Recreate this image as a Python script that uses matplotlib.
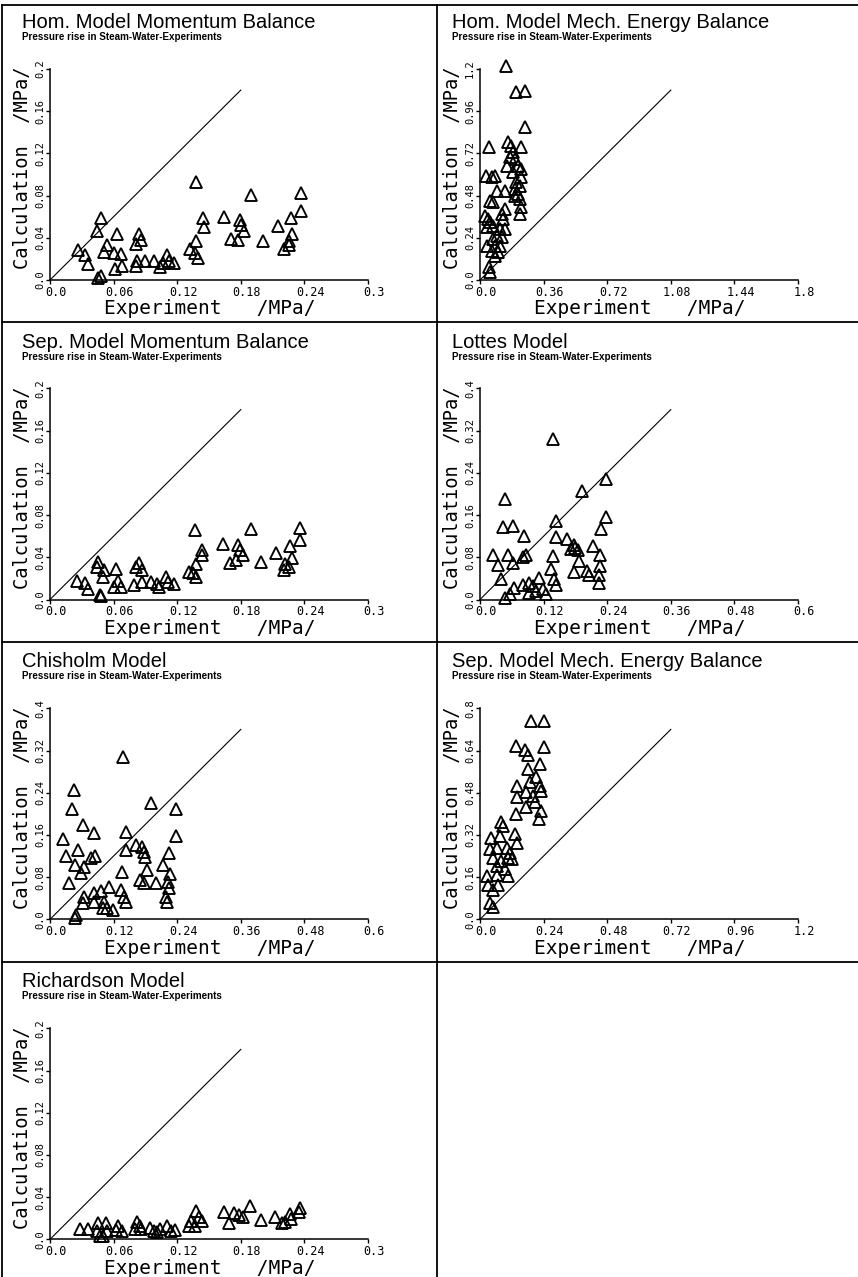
import matplotlib
matplotlib.use("Agg")
import matplotlib.pyplot as plt
from matplotlib import font_manager
from matplotlib.lines import Line2D
from matplotlib.transforms import ScaledTranslation


# --- DATA ---
titles = [
    "Hom. Model Momentum Balance",
    "Hom. Model Mech. Energy Balance",
    "Sep. Model Momentum Balance",
    "Lottes Model",
    "Chisholm Model",
    "Sep. Model Mech. Energy Balance",
    "Richardson Model",
]
subtitle = "Pressure rise in Steam-Water-Experiments"
x_label = "Experiment   /MPa/"
y_label = "Calculation  /MPa/"

ticks_02 = ["0.0", "0.04", "0.08", "0.12", "0.16", "0.2"]
ticks_03 = ["0.0", "0.06", "0.12", "0.18", "0.24", "0.3"]
ticks_04 = ["0.0", "0.08", "0.16", "0.24", "0.32", "0.4"]
ticks_06 = ["0.0", "0.12", "0.24", "0.36", "0.48", "0.6"]
ticks_08 = ["0.0", "0.16", "0.32", "0.48", "0.64", "0.8"]
ticks_12 = ["0.0", "0.24", "0.48", "0.72", "0.96", "1.2"]
ticks_18 = ["0.0", "0.36", "0.72", "1.08", "1.44", "1.8"]

hom_mom_exp = [0.138, 0.190, 0.237, 0.237, 0.164, 0.144, 0.145, 0.179, 0.180, 0.183,
               0.171, 0.177, 0.201, 0.215, 0.227, 0.228, 0.225, 0.225, 0.221, 0.138,
               0.132, 0.137, 0.140, 0.048, 0.044, 0.063, 0.084, 0.086, 0.081, 0.054,
               0.051, 0.026, 0.033, 0.036, 0.060, 0.067, 0.061, 0.068, 0.048, 0.045,
               0.081, 0.082, 0.090, 0.098, 0.104, 0.110, 0.112, 0.117, 0.107]
hom_mom_calc = [0.093, 0.081, 0.082, 0.065, 0.060, 0.059, 0.050, 0.057, 0.052, 0.046,
                0.039, 0.038, 0.037, 0.051, 0.059, 0.044, 0.037, 0.033, 0.029, 0.037,
                0.029, 0.026, 0.021, 0.059, 0.046, 0.044, 0.044, 0.038, 0.034, 0.033,
                0.027, 0.028, 0.024, 0.015, 0.026, 0.025, 0.010, 0.013, 0.004, 0.002,
                0.013, 0.018, 0.018, 0.018, 0.012, 0.024, 0.018, 0.016, 0.016]

hom_mech_exp = [0.146, 0.203, 0.253, 0.253, 0.053, 0.159, 0.178, 0.234, 0.188, 0.169,
                0.197, 0.150, 0.216, 0.234, 0.188, 0.034, 0.084, 0.066, 0.234, 0.206,
                0.225, 0.141, 0.094, 0.197, 0.216, 0.197, 0.056, 0.075, 0.225, 0.234,
                0.225, 0.141, 0.122, 0.131, 0.028, 0.047, 0.056, 0.038, 0.075, 0.113,
                0.141, 0.094, 0.122, 0.075, 0.038, 0.084, 0.113, 0.066, 0.103, 0.084,
                0.053, 0.056]
hom_mech_calc = [1.219, 1.067, 1.077, 0.868, 0.755, 0.783, 0.764, 0.755, 0.726, 0.698,
                 0.688, 0.650, 0.650, 0.631, 0.612, 0.593, 0.593, 0.584, 0.584, 0.555,
                 0.536, 0.508, 0.508, 0.518, 0.489, 0.480, 0.451, 0.442, 0.461, 0.413,
                 0.375, 0.404, 0.375, 0.347, 0.366, 0.347, 0.328, 0.300, 0.309, 0.290,
                 0.290, 0.252, 0.243, 0.233, 0.195, 0.195, 0.195, 0.167, 0.157, 0.138,
                 0.072, 0.044]

sep_mom_exp = [0.137, 0.190, 0.236, 0.236, 0.163, 0.143, 0.143, 0.138, 0.177, 0.179,
               0.182, 0.170, 0.175, 0.199, 0.213, 0.226, 0.228, 0.222, 0.221, 0.225,
               0.131, 0.138, 0.135, 0.045, 0.044, 0.051, 0.062, 0.064, 0.067, 0.060,
               0.050, 0.025, 0.033, 0.036, 0.047, 0.048, 0.081, 0.084, 0.087, 0.079,
               0.087, 0.095, 0.103, 0.109, 0.111, 0.117, 0.101]
sep_mom_calc = [0.066, 0.067, 0.068, 0.056, 0.053, 0.047, 0.042, 0.034, 0.052, 0.047,
                0.042, 0.035, 0.037, 0.036, 0.044, 0.051, 0.039, 0.034, 0.028, 0.031,
                0.026, 0.021, 0.025, 0.036, 0.031, 0.028, 0.029, 0.018, 0.012, 0.012,
                0.021, 0.018, 0.016, 0.010, 0.004, 0.003, 0.031, 0.035, 0.028, 0.014,
                0.017, 0.017, 0.012, 0.021, 0.017, 0.015, 0.015]

lottes_exp = [0.137, 0.238, 0.192, 0.047, 0.238, 0.044, 0.062, 0.229, 0.083, 0.144,
              0.144, 0.164, 0.177, 0.180, 0.171, 0.184, 0.213, 0.227, 0.227, 0.224,
              0.224, 0.187, 0.177, 0.202, 0.205, 0.025, 0.034, 0.053, 0.062, 0.081,
              0.087, 0.039, 0.137, 0.134, 0.140, 0.143, 0.112, 0.093, 0.081, 0.065,
              0.100, 0.106, 0.118, 0.056, 0.047, 0.093, 0.124]
lottes_calc = [0.305, 0.228, 0.206, 0.191, 0.157, 0.138, 0.140, 0.133, 0.120, 0.149,
               0.119, 0.114, 0.103, 0.098, 0.096, 0.094, 0.101, 0.085, 0.063, 0.047,
               0.032, 0.073, 0.052, 0.054, 0.047, 0.084, 0.066, 0.085, 0.070, 0.080,
               0.085, 0.038, 0.082, 0.057, 0.038, 0.028, 0.041, 0.032, 0.028, 0.022,
               0.025, 0.016, 0.019, 0.010, 0.003, 0.013, 0.010]

chisholm_exp = [0.138, 0.045, 0.042, 0.191, 0.238, 0.063, 0.083, 0.025, 0.144, 0.238,
                0.163, 0.144, 0.052, 0.031, 0.085, 0.078, 0.048, 0.064, 0.058, 0.036,
                0.174, 0.177, 0.180, 0.225, 0.214, 0.226, 0.183, 0.170, 0.177, 0.200,
                0.222, 0.224, 0.219, 0.220, 0.136, 0.134, 0.140, 0.143, 0.112, 0.096,
                0.083, 0.065, 0.062, 0.083, 0.102, 0.108, 0.100, 0.118, 0.049, 0.047]
chisholm_calc = [0.307, 0.245, 0.209, 0.220, 0.209, 0.179, 0.163, 0.152, 0.166, 0.157,
                 0.141, 0.131, 0.131, 0.120, 0.120, 0.116, 0.103, 0.100, 0.088, 0.068,
                 0.138, 0.128, 0.119, 0.125, 0.103, 0.086, 0.093, 0.075, 0.068, 0.068,
                 0.071, 0.060, 0.043, 0.033, 0.090, 0.056, 0.043, 0.033, 0.062, 0.053,
                 0.050, 0.043, 0.031, 0.033, 0.033, 0.021, 0.021, 0.018, 0.008, 0.003]

sep_mech_exp = [0.194, 0.240, 0.135, 0.169, 0.181, 0.240, 0.225, 0.181, 0.140, 0.188,
                0.213, 0.225, 0.231, 0.175, 0.140, 0.200, 0.206, 0.175, 0.231, 0.223,
                0.135, 0.081, 0.088, 0.040, 0.075, 0.131, 0.140, 0.038, 0.063, 0.100,
                0.113, 0.050, 0.081, 0.106, 0.119, 0.063, 0.094, 0.025, 0.063, 0.106,
                0.031, 0.069, 0.050, 0.038, 0.050]
sep_mech_calc = [0.752, 0.752, 0.657, 0.641, 0.622, 0.654, 0.590, 0.571, 0.507, 0.520,
                 0.539, 0.507, 0.488, 0.482, 0.463, 0.469, 0.443, 0.424, 0.411, 0.380,
                 0.399, 0.369, 0.354, 0.310, 0.316, 0.322, 0.290, 0.265, 0.271, 0.271,
                 0.252, 0.233, 0.220, 0.233, 0.227, 0.201, 0.189, 0.163, 0.169, 0.163,
                 0.131, 0.131, 0.112, 0.061, 0.048]

richardson_exp = [0.189, 0.236, 0.235, 0.164, 0.174, 0.178, 0.182, 0.169, 0.199, 0.212,
                  0.226, 0.227, 0.222, 0.219, 0.138, 0.141, 0.143, 0.133, 0.131, 0.137,
                  0.028, 0.036, 0.045, 0.044, 0.053, 0.054, 0.064, 0.062, 0.068, 0.047,
                  0.050, 0.082, 0.085, 0.080, 0.086, 0.094, 0.098, 0.104, 0.110, 0.114,
                  0.118, 0.101]
richardson_calc = [0.032, 0.030, 0.026, 0.026, 0.025, 0.023, 0.021, 0.015, 0.018, 0.021,
                   0.024, 0.019, 0.016, 0.015, 0.027, 0.021, 0.017, 0.017, 0.013, 0.013,
                   0.010, 0.010, 0.015, 0.008, 0.015, 0.008, 0.013, 0.009, 0.008, 0.003,
                   0.003, 0.016, 0.013, 0.010, 0.010, 0.011, 0.008, 0.010, 0.013, 0.008,
                   0.009, 0.007]

panels = [
    (titles[0], hom_mom_exp, hom_mom_calc, ticks_03, ticks_02),
    (titles[1], hom_mech_exp, hom_mech_calc, ticks_18, ticks_12),
    (titles[2], sep_mom_exp, sep_mom_calc, ticks_03, ticks_02),
    (titles[3], lottes_exp, lottes_calc, ticks_06, ticks_04),
    (titles[4], chisholm_exp, chisholm_calc, ticks_06, ticks_04),
    (titles[5], sep_mech_exp, sep_mech_calc, ticks_12, ticks_08),
    (titles[6], richardson_exp, richardson_calc, ticks_03, ticks_02),
]


# --- FONTS ---
def have_font(name):
    try:
        font_manager.findfont(font_manager.FontProperties(family=name),
                              fallback_to_default=False)
        return True
    except ValueError:
        return False


title_font = "Liberation Sans" if have_font("Liberation Sans") else "DejaVu Sans"
if have_font("Liberation Sans Narrow"):
    sub_font, sub_size = "Liberation Sans Narrow", 8.7
else:
    sub_font, sub_size = title_font, 7.1
mono_font = "DejaVu Sans Mono"


# --- LAYOUT (pixels) ---
W, H, DPI = 858, 1277, 100
axes_left = [50, 480]
row_origin = [280, 599.5, 919.3, 1239.3]
AX_W, AX_H = 318, 211
DIAG_FRAC = 0.6   # 1:1 line drawn over the first 60 % of the x range

fig = plt.figure(figsize=(W / DPI, H / DPI), dpi=DPI)


def fx(px):
    return px / W


def fy(py):
    return 1 - py / H


for i, (title, xs, ys, xt, yt) in enumerate(panels):
    row, col = divmod(i, 2)
    left = axes_left[col]
    orig = row_origin[row]
    ax = fig.add_axes([fx(left), fy(orig), AX_W / W, AX_H / H])

    xticks = [float(t) for t in xt]
    yticks = [float(t) for t in yt]
    xmax, ymax = xticks[-1], yticks[-1]

    ax.plot([0, DIAG_FRAC * xmax], [0, DIAG_FRAC * xmax], color="black", lw=0.8)
    ax.plot(xs, ys, linestyle="none", marker="^", ms=8.6, mew=1.35,
            mfc="none", mec="black", clip_on=False)

    ax.set_xlim(0, xmax)
    ax.set_ylim(0, ymax)
    ax.set_xticks(xticks)
    ax.set_xticklabels(xt)
    ax.set_yticks(yticks)
    ax.set_yticklabels(yt)

    for side in ("top", "right"):
        ax.spines[side].set_visible(False)
    for side in ("left", "bottom"):
        ax.spines[side].set_linewidth(1.1)
    ax.patch.set_visible(False)

    ax.tick_params(direction="out", length=3, width=1, pad=1.2)
    ax.tick_params(axis="x", labelsize=8.5)
    ax.tick_params(axis="y", labelsize=7.5, labelrotation=90, pad=0.6)
    shift = ScaledTranslation(6 / DPI, 0, fig.dpi_scale_trans)
    for lbl in ax.get_xticklabels():
        lbl.set_fontfamily(mono_font)
        lbl.set_transform(lbl.get_transform() + shift)
    for lbl in ax.get_yticklabels():
        lbl.set_fontfamily(mono_font)
        lbl.set_va("center")

    # titles and axis labels
    fig.text(fx(left - 28.3), fy(orig - 252), title, family=title_font,
             fontsize=14.5, va="baseline", ha="left")
    fig.text(fx(left - 28.3), fy(orig - 240), subtitle, family=sub_font,
             fontsize=sub_size, fontweight="bold", va="baseline", ha="left")
    fig.text(fx(left + 160), fy(orig + 29), x_label, family=mono_font,
             fontsize=14, ha="center", va="center")
    fig.text(fx(left - 27.5), fy(orig - 112), y_label, family=mono_font,
             fontsize=13.5, ha="center", va="center", rotation=90)

# panel frame lines
for y in [5, 322, 642, 962]:
    fig.add_artist(Line2D([fx(2), fx(858)], [fy(y), fy(y)],
                          transform=fig.transFigure, color="black", lw=1.3))
for x in [2, 437]:
    fig.add_artist(Line2D([fx(x), fx(x)], [fy(5), fy(1277)],
                          transform=fig.transFigure, color="black", lw=1.3))

fig.savefig("out.png", dpi=DPI, facecolor="white")
